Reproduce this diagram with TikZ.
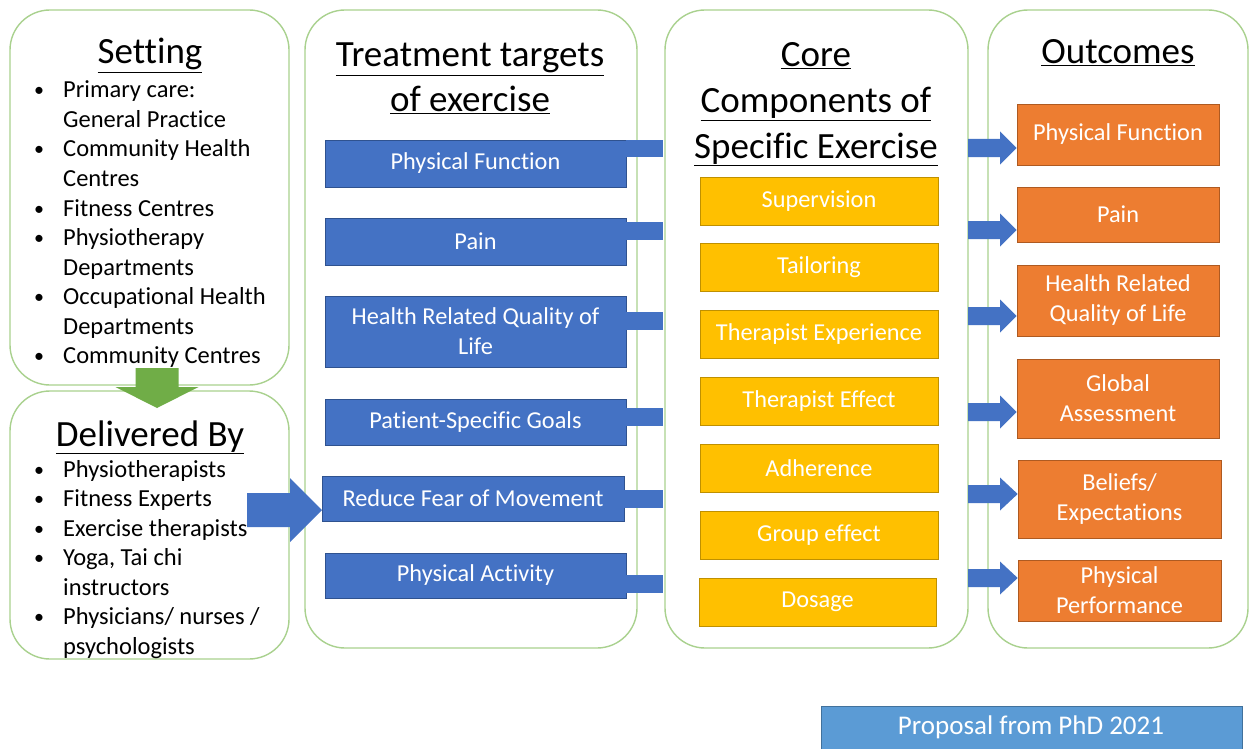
\documentclass[tikz,border=0pt]{standalone}
\usepackage{fontspec}
\setmainfont{Carlito}[Ligatures={NoCommon,NoRare}]
\usetikzlibrary{calc}
\definecolor{gbord}{HTML}{A9D18E}
\definecolor{tblue}{HTML}{4472C4}
\definecolor{tbluebd}{HTML}{2F528F}
\definecolor{tyel}{HTML}{FFC000}
\definecolor{tyelbd}{HTML}{BF9000}
\definecolor{tora}{HTML}{ED7D31}
\definecolor{torabd}{HTML}{AE5A21}
\definecolor{tgreen}{HTML}{70AD47}
\definecolor{pblue}{HTML}{5B9BD5}
\definecolor{pbluebd}{HTML}{41719C}
\begin{document}
\begin{tikzpicture}[x=1pt,y=-1pt,
  panel/.style={draw=gbord, line width=1.4pt, rounded corners=40pt, fill=white},
  headtxt/.style={anchor=base, inner sep=0pt, font=\fontsize{37}{40}\selectfont},
  listtxt/.style={anchor=base west, inner sep=0pt, font=\fontsize{24.5}{29.5}\selectfont},
  bultxt/.style={anchor=base west, inner sep=0pt, font=\fontsize{20}{29.5}\selectfont},
  tbox/.style={draw=tbluebd, line width=0.6pt, fill=tblue, text=white, align=center, inner sep=0pt, font=\fontsize{24.3}{30}\selectfont},
  ybox/.style={draw=tyelbd, line width=0.6pt, fill=tyel, text=white, align=center, inner sep=0pt, font=\fontsize{24.3}{30}\selectfont},
  obox/.style={draw=torabd, line width=0.6pt, fill=tora, text=white, align=center, inner sep=0pt, font=\fontsize{24.3}{30}\selectfont},
  stub/.style={fill=tblue}
]
\useasboundingbox (0,0) rectangle (1250,749);
\fill[white] (0,0) rectangle (1250,749);

% panels
\draw[panel] (10,10) rectangle (289,385);
\draw[panel] (10,391) rectangle (289,659);
\draw[panel] (305,10) rectangle (637,648);
\draw[panel] (665,10) rectangle (968,648);
\draw[panel] (988,10) rectangle (1248,648);

% headings
\node[headtxt] (hset) at (150,64) {\underline{Setting}};
\node[headtxt] (hdel) at (150,446) {\underline{Delivered By}};
\node[headtxt] (htt1) at (470,67) {\underline{Treatment targets}};
\node[headtxt] (htt2) at (470,112) {\underline{of exercise}};
\node[headtxt] (hcc1) at (816,67) {\underline{Core}};
\node[headtxt] (hcc2) at (816,113) {\underline{Components of}};
\node[headtxt] (hcc3) at (816,158) {\underline{Specific Exercise}};
\node[headtxt] (hout) at (1118,64) {\underline{Outcomes}};

% setting list
\foreach \yy/\bb/\tt [count=\i] in {
  98/1/{Primary care:},
  127.5/0/{General Practice},
  157/1/{Community Health},
  186.5/0/{Centres},
  216/1/{Fitness Centres},
  245.5/1/{Physiotherapy},
  275/0/{Departments},
  304.5/1/{Occupational Health},
  334/0/{Departments},
  363.5/1/{Community Centres}}{
  \node[listtxt] (sl\i) at (63,\yy) {\tt};
  \ifnum\bb=1 \node[bultxt] (sb\i) at (34,\yy-1) {\textbullet};\fi
}
% delivered list
\foreach \yy/\bb/\tt [count=\i] in {
  477/1/{Physiotherapists},
  506.5/1/{Fitness Experts},
  536/1/{Exercise therapists},
  565.5/1/{Yoga, Tai chi},
  595/0/{instructors},
  624.5/1/{Physicians/ nurses /},
  654/0/{psychologists}}{
  \node[listtxt] (dl\i) at (63,\yy) {\tt};
  \ifnum\bb=1 \node[bultxt] (db\i) at (34,\yy-1) {\textbullet};\fi
}

% green arrow setting -> delivered
\fill[tgreen] (135.5,368) -- (178.5,368) -- (178.5,387) -- (198.5,387) -- (157,408) -- (115.5,387) -- (135.5,387) -- cycle;

% treatment target boxes
\node[tbox, minimum width=301pt, minimum height=47pt] (bpf) at (475.5,163.5) {Physical Function};
\node[tbox, minimum width=301pt, minimum height=47pt] (bpain) at (475.5,241.5) {Pain};
\node[tbox, minimum width=301pt, minimum height=71pt] (bhr) at (475.5,331.5) {Health Related Quality of\\Life};
\node[tbox, minimum width=301pt, minimum height=46pt] (bpsg) at (475.5,422) {Patient-Specific Goals};
\node[tbox, minimum width=302pt, minimum height=45pt] (brf) at (473,498.5) {Reduce Fear of Movement};
\node[tbox, minimum width=301pt, minimum height=45pt] (bpa) at (475.5,575.5) {Physical Activity};

% stubs
\fill[stub] (bpf.east |- 0,140) rectangle (663,157);
\fill[stub] (bpain.east |- 0,222) rectangle (663,240);
\fill[stub] (bhr.east |- 0,312) rectangle (663,330);
\fill[stub] (bpsg.east |- 0,408) rectangle (663,426);
\fill[stub] (brf.east |- 0,490) rectangle (663,508);
\fill[stub] (bpa.east |- 0,575) rectangle (663,593);

% big blue arrow delivered -> treatment
\fill[tblue] (247,493) -- (290,493) -- (290,478) -- (322,510) -- (290,542) -- (290,527) -- (247,527) -- cycle;

% yellow boxes
\node[ybox, minimum width=238pt, minimum height=48pt] (ysup) at (819,201) {Supervision};
\node[ybox, minimum width=238pt, minimum height=48pt] (ytai) at (819,267.5) {Tailoring};
\node[ybox, minimum width=238pt, minimum height=48pt] (ytexp) at (819,334.5) {Therapist Experience};
\node[ybox, minimum width=238pt, minimum height=48pt] (yteff) at (819,401.5) {Therapist Effect};
\node[ybox, minimum width=238pt, minimum height=48pt] (yadh) at (819,468.5) {Adherence};
\node[ybox, minimum width=238pt, minimum height=48pt] (ygrp) at (819,535.5) {Group effect};
\node[ybox, minimum width=237pt, minimum height=48pt] (ydos) at (817.5,602) {Dosage};

% orange boxes
\node[obox, minimum width=202pt, minimum height=61pt] (opf) at (1118,134.5) {Physical Function};
\node[obox, minimum width=202pt, minimum height=55pt] (opain) at (1118,214.5) {Pain};
\node[obox, minimum width=202pt, minimum height=71pt] (ohr) at (1118,300.5) {Health Related\\Quality of Life};
\node[obox, minimum width=202pt, minimum height=79pt] (oga) at (1118,398.5) {Global\\Assessment};
\node[obox, minimum width=203pt, minimum height=78pt] (obe) at (1119.5,499) {Beliefs/\\Expectations};
\node[obox, minimum width=203pt, minimum height=61pt] (opp) at (1119.5,590.5) {Physical\\Performance};

% arrows into outcomes
\foreach \cy/\tgt in {148/opf,230/opain,316/ohr,412/oga,494/obe,578/opp}{
  \fill[tblue] (968,\cy-9) -- (1000,\cy-9) -- (1000,\cy-16.5) -- (\tgt.west |- 0,\cy) -- (1000,\cy+16.5) -- (1000,\cy+9) -- (968,\cy+9) -- cycle;
}

% proposal box
\fill[pblue] (821,706) rectangle (1242,749);
\draw[pbluebd, line width=0.8pt] (821,749) -- (821,706) -- (1242,706) -- (1242,749);
\node[inner sep=0pt, text=white, font=\fontsize{27}{30}\selectfont] (prop) at (1031,727) {Proposal from PhD 2021};
\end{tikzpicture}
\end{document}
